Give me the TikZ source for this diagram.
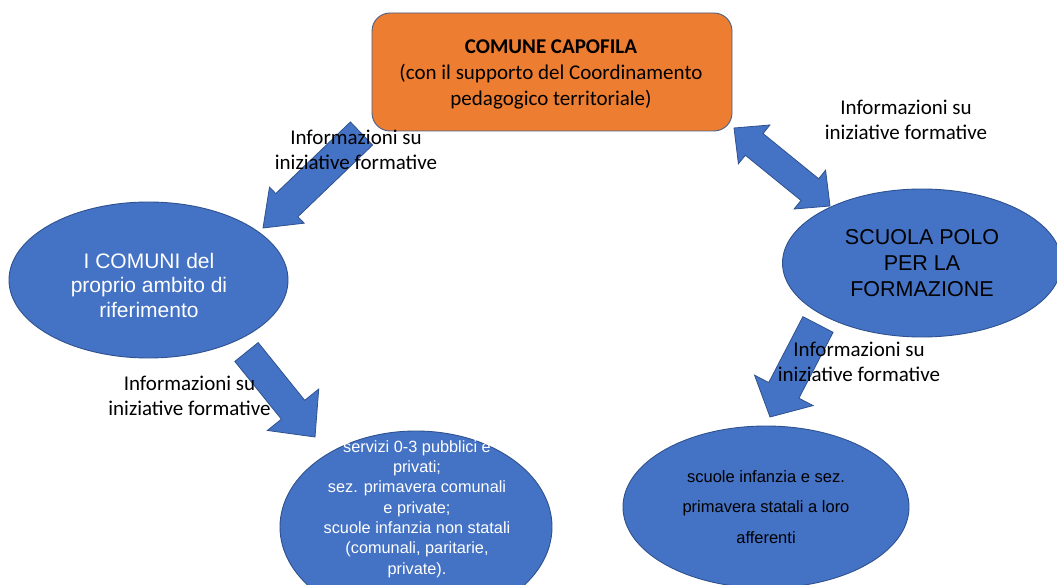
\documentclass[tikz,border=0pt]{standalone}
\usepackage{fontspec}
\setmainfont{Carlito}
\newfontfamily\arialf{Liberation Sans}
\usetikzlibrary{calc,shapes.geometric}
\definecolor{cblue}{HTML}{4472C4}
\definecolor{cborder}{HTML}{2F528F}
\definecolor{corange}{HTML}{ED7D31}
\tikzset{
  ell/.style={ellipse, fill=cblue, draw=cborder, line width=0.9pt, inner sep=0pt, align=center, font=\arialf},
  lbl/.style={align=center, font=\fontsize{21}{25}\selectfont, text=black, inner sep=0pt},
  barrow/.style={fill=cblue, draw=cborder, line width=0.8pt, line join=miter},
  capobox/.style={rectangle, rounded corners=18pt, fill=corange, draw=cborder!70!gray, line width=0.9pt, align=center, inner sep=0pt, font=\fontsize{21}{26}\selectfont}
}
% tail, tip, shaft half width, head half width, head length
\newcommand{\blockarrow}[5]{%
  \coordinate (ba-n) at ($(#2)!#5!(#1)$);
  \draw[barrow] ($(#1)!#3!90:(#2)$) -- ($(ba-n)!#3!90:(#2)$) -- ($(ba-n)!#4!90:(#2)$) -- (#2)
     -- ($(ba-n)!#4!-90:(#2)$) -- ($(ba-n)!#3!-90:(#2)$) -- ($(#1)!#3!-90:(#2)$) -- cycle;}
% tip1, tip2, shaft half width, head half width, head length
\newcommand{\dblarrow}[5]{%
  \coordinate (da-a) at ($(#1)!#5!(#2)$);
  \coordinate (da-b) at ($(#2)!#5!(#1)$);
  \draw[barrow] (#1) -- ($(da-a)!#4!90:(#2)$) -- ($(da-a)!#3!90:(#2)$) -- ($(da-b)!#3!-90:(#1)$)
     -- ($(da-b)!#4!-90:(#1)$) -- (#2) -- ($(da-b)!#4!90:(#1)$) -- ($(da-b)!#3!90:(#1)$)
     -- ($(da-a)!#3!-90:(#2)$) -- ($(da-a)!#4!-90:(#2)$) -- cycle;}
\begin{document}
\begin{tikzpicture}[x=1pt,y=-1pt]
\useasboundingbox[fill=white] (0,0) rectangle (1057,585);

% nodes
\node[capobox, minimum width=360pt, minimum height=118pt] (capo) at (552,72) {};
\node[align=center, inner sep=0pt, font=\fontsize{21}{26}\selectfont] (capotxt) at (551,74)
  {\textbf{COMUNE CAPOFILA}\\(con il supporto del Coordinamento\\pedagogico territoriale)};
\node[ell, minimum width=279pt, minimum height=156pt] (comuni) at (148.5,280) {};
\node[align=center, inner sep=0pt, text=white, font=\arialf\fontsize{21}{24.5}\selectfont]
  (comunitxt) at (149,285) {I COMUNI del\\proprio ambito di\\riferimento};
\node[ell, minimum width=279pt, minimum height=148pt, text=black,
      font=\arialf\fontsize{21.5}{26}\selectfont] (polo) at (922,263)
  {SCUOLA POLO\\PER LA\\FORMAZIONE};
\node[ell, minimum width=272pt, minimum height=192pt] (servizi) at (416,527) {};
\node[align=center, text=white, inner sep=0pt, font=\arialf\fontsize{16.3}{20.3}\selectfont]
  (servizitxt) at (417,509)
  {servizi 0-3 pubblici e\\privati;\\sez. primavera comunali\\e private;\\scuole infanzia non statali\\(comunali, paritarie,\\private).};
\node[ell, minimum width=286pt, minimum height=162pt, text=black,
      font=\arialf\fontsize{16.5}{30.5}\selectfont] (statali) at (766,507)
  {scuole infanzia e sez.\\primavera statali a loro\\afferenti};

% arrow ends
\coordinate (a1t) at (361.5,133.5);
\coordinate (a1h) at (263,228);
\coordinate (a2a) at (734,128);
\coordinate (a2b) at (830,206);
\coordinate (a3t) at (246.5,352);
\coordinate (a3h) at (315,437);
\coordinate (a4t) at (818,324.5);
\coordinate (a4h) at (770,417);

\blockarrow{a1t}{a1h}{16pt}{25pt}{33pt}
\dblarrow{a2a}{a2b}{14pt}{25pt}{26pt}
\blockarrow{a3t}{a3h}{15pt}{33pt}{35pt}
\blockarrow{a4t}{a4h}{17pt}{33pt}{30pt}

% labels
\node[lbl] (l1) at (356,150) {Informazioni su\\iniziative formative};
\node[lbl] (l2) at (906,120) {Informazioni su\\iniziative formative};
\node[lbl] (l3) at (189.5,396) {Informazioni su\\iniziative formative};
\node[lbl] (l4) at (859,362) {Informazioni su\\iniziative formative};
\end{tikzpicture}
\end{document}
